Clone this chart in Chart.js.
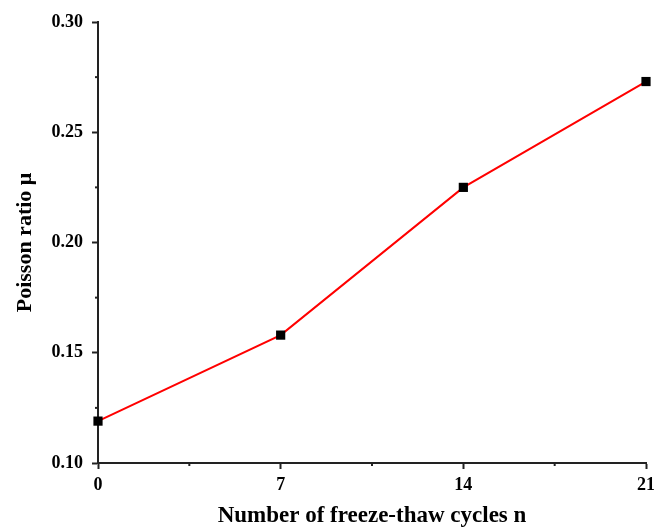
<!DOCTYPE html>
<html>
<head>
<meta charset="utf-8">
<script src="https://cdn.jsdelivr.net/npm/chart.js@4"></script>
<style>
  html, body { margin: 0; padding: 0; background: #fff; }
  #wrap { width: 654px; height: 529px; }
</style>
</head>
<body>
<div id="wrap"><canvas id="chart" width="654" height="529"></canvas></div>
<script>
// data
let cycles = [0, 7, 14, 21];
let poisson = [0.119, 0.158, 0.225, 0.273];
let xTicks = [0, 7, 14, 21];
let yTicks = [0.10, 0.15, 0.20, 0.25, 0.30];

let serif = "'Liberation Serif', 'Times New Roman', serif";

// little plugin for the minor ticks (half way between majors)
let minorTicks = {
  id: "minorTicks",
  afterDraw(chart) {
    let ctx = chart.ctx;
    let x = chart.scales.x, y = chart.scales.y;
    ctx.save();
    ctx.strokeStyle = "#222";
    ctx.lineWidth = 2;
    for (let i = 0; i < xTicks.length - 1; i++) {
      let px = x.getPixelForValue((xTicks[i] + xTicks[i + 1]) / 2);
      ctx.beginPath();
      ctx.moveTo(px, x.top);
      ctx.lineTo(px, x.top + 3);
      ctx.stroke();
    }
    for (let i = 0; i < yTicks.length - 1; i++) {
      let py = y.getPixelForValue((yTicks[i] + yTicks[i + 1]) / 2);
      ctx.beginPath();
      ctx.moveTo(y.right, py);
      ctx.lineTo(y.right - 3, py);
      ctx.stroke();
    }
    ctx.restore();
  }
};

new Chart(document.getElementById("chart"), {
  type: "line",
  data: {
    datasets: [{
      data: cycles.map((c, i) => ({ x: c, y: poisson[i] })),
      borderColor: "#ff0000",
      borderWidth: 2,
      pointStyle: "rect",
      pointRadius: 6.5,
      pointBackgroundColor: "#000",
      pointBorderColor: "#000",
      pointBorderWidth: 0,
      tension: 0,
      clip: false
    }]
  },
  options: {
    responsive: false,
    animation: false,
    layout: { padding: { top: 22, right: 8, left: 0, bottom: 0 } },
    plugins: { legend: { display: false }, tooltip: { enabled: false } },
    scales: {
      x: {
        type: "linear",
        min: 0, max: 21,
        afterBuildTicks: s => { s.ticks = xTicks.map(v => ({ value: v })); },
        afterFit: s => { s.height = 66; s.paddingLeft = 0; s.paddingRight = 0; },
        grid: { drawOnChartArea: false, tickLength: 6, tickWidth: 2, tickColor: "#222" },
        border: { color: "#222", width: 2 },
        ticks: {
          color: "#000", padding: 6,
          font: { family: serif, size: 18, weight: "bold" },
          maxRotation: 0
        },
        title: {
          display: true,
          text: "Number of freeze-thaw cycles n",
          color: "#000",
          font: { family: serif, size: 23, weight: "bold" },
          padding: { top: 0, bottom: -1 }
        }
      },
      y: {
        min: 0.10, max: 0.30,
        afterBuildTicks: s => { s.ticks = yTicks.map(v => ({ value: v })); },
        afterFit: s => { s.width = 98; s.paddingTop = 0; s.paddingBottom = 0; },
        grid: { drawOnChartArea: false, tickLength: 6, tickWidth: 2, tickColor: "#222" },
        border: { color: "#222", width: 2 },
        ticks: {
          color: "#000", padding: 9,
          font: { family: serif, size: 18, weight: "bold" },
          callback: v => v.toFixed(2)
        },
        title: {
          display: true,
          text: "Poisson ratio μ",
          color: "#000",
          font: { family: serif, size: 22, weight: "bold" },
          padding: { top: 12, bottom: 0 }
        }
      }
    }
  },
  plugins: [minorTicks]
});
</script>
</body>
</html>
